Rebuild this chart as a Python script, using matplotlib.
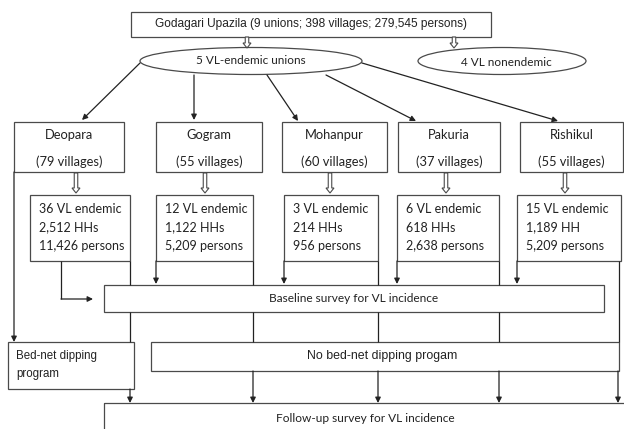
import matplotlib
matplotlib.use("Agg")
import matplotlib.pyplot as plt
import matplotlib.patches as mpatches

# data shown in the flowchart
upazila = "Godagari Upazila"
n_unions = 9
n_villages = 398
n_persons = 279545
endemic_unions = 5
nonendemic_unions = 4
unions = ["Deopara", "Gogram", "Mohanpur", "Pakuria", "Rishikul"]
union_villages = [79, 55, 60, 37, 55]
vl_endemic = [36, 12, 3, 6, 15]
households = ["2,512 HHs", "1,122 HHs", "214 HHs", "618 HHs", "1,189 HH"]
persons = [11426, 5209, 956, 2638, 5209]

# layout (pixels, y down)
union_x = [(14, 124), (156, 262), (282, 387), (398, 500), (520, 623)]
endemic_x = [(30, 130), (156, 253), (284, 378), (397, 499), (517, 621)]
union_y = (122, 172)
endemic_y = (195, 261)

EC = "#4a4a4a"
TC = "#222222"
CAL = ["Lato", "DejaVu Sans"]
ARI = ["Liberation Sans", "DejaVu Sans"]

fig = plt.figure(figsize=(6.24, 4.29), dpi=100)
ax = fig.add_axes([0, 0, 1, 1])
ax.set_xlim(0, 624)
ax.set_ylim(429, 0)
ax.axis("off")


def box(x0, y0, x1, y1):
    ax.add_patch(mpatches.Rectangle((x0, y0), x1 - x0, y1 - y0, fill=False,
                                    ec=EC, lw=0.9, clip_on=True))


def line(xs, ys):
    ax.plot(xs, ys, color="#222222", lw=0.9, solid_capstyle="butt")


def arrow(x0, y0, x1, y1):
    ax.annotate("", xy=(x1, y1), xytext=(x0, y0),
                arrowprops=dict(arrowstyle="-|>", color="#222222", lw=0.9,
                                mutation_scale=8, shrinkA=0, shrinkB=0))


def hollow(x, y0, y1):
    ax.add_patch(mpatches.FancyArrow(x, y0, 0, y1 - y0, width=3.5, head_width=8,
                                     head_length=5, length_includes_head=True,
                                     fc="white", ec=EC, lw=0.8))


# top box
box(131, 12, 491, 37)
ax.text(311, 24.5, f"{upazila} ({n_unions} unions; {n_villages} villages; {n_persons:,} persons)",
        ha="center", va="center", fontsize=8.6, family=ARI, color=TC)
hollow(247, 37, 48)
hollow(454, 37, 48)

# ellipses
ax.add_patch(mpatches.Ellipse((251, 61), 222, 27, fill=False, ec=EC, lw=0.9))
ax.text(251, 61, f"{endemic_unions} VL-endemic unions", ha="center", va="center",
        fontsize=8.5, family=CAL, color=TC)
ax.add_patch(mpatches.Ellipse((502, 61), 168, 27, fill=False, ec=EC, lw=0.9))
ax.text(506, 62, f"{nonendemic_unions} VL nonendemic", ha="center", va="center",
        fontsize=8.5, family=CAL, color=TC)

# ellipse to union arrows
starts = [(140, 63), (194, 75), (267, 75), (326, 75), (362, 63)]
ends = [(82, 120), (194, 120), (298, 121), (416, 121), (558, 121)]
for (sx, sy), (ex, ey) in zip(starts, ends):
    arrow(sx, sy, ex, ey)

# union boxes
for name, nv, (x0, x1) in zip(unions, union_villages, union_x):
    box(x0, union_y[0], x1, union_y[1])
    cx = (x0 + x1) / 2
    ax.text(cx, 135, name, ha="center", va="center", fontsize=9.3, family=CAL, color=TC)
    ax.text(cx, 162, f"({nv} villages)", ha="center", va="center", fontsize=9.3,
            family=CAL, color=TC)

for x in [76, 205, 330, 446, 565]:
    hollow(x, union_y[1] + 1, endemic_y[0] - 2)

# endemic boxes
for ne, hh, p, (x0, x1) in zip(vl_endemic, households, persons, endemic_x):
    box(x0, endemic_y[0], x1, endemic_y[1])
    for k, s in enumerate([f"{ne} VL endemic", hh, f"{p:,} persons"]):
        ax.text(x0 + 9, 209 + 18.5 * k, s, ha="left", va="center", fontsize=9,
                family=CAL, color=TC)

# survey and program boxes
box(104, 285, 604, 312)
ax.text(354, 298.5, "Baseline survey for VL incidence", ha="center", va="center",
        fontsize=8.6, family=CAL, color=TC)
box(8, 342, 134, 389)
ax.text(16, 356, "Bed-net dipping", ha="left", va="center", fontsize=8.3,
        family=ARI, color=TC)
ax.text(16, 374, "program", ha="left", va="center", fontsize=8.3, family=ARI, color=TC)
box(151, 342, 619, 371)
ax.text(382, 356.5, "No bed-net dipping progam", ha="center", va="center",
        fontsize=8.9, family=ARI, color=TC)
box(104, 403, 630, 445)
ax.text(365, 418, "Follow-up survey for VL incidence", ha="center", va="center",
        fontsize=8.6, family=CAL, color=TC)

# connectors
arrow(14, union_y[1], 14, 342)
line([61, 61], [endemic_y[1], 299])
arrow(61, 299, 93, 299)
for i, (x0, x1) in enumerate(endemic_x):
    if i > 0:
        arrow(x0, endemic_y[1], x0, 284)
    if i < 4:
        line([x1, x1], [endemic_y[1], 285])
        line([x1, x1], [312, 342])
        arrow(x1, 389 if i == 0 else 371, x1, 403)
    else:
        line([619, 619], [endemic_y[1], 342])
        arrow(618, 371, 618, 403)

fig.savefig("out.png", dpi=100)
